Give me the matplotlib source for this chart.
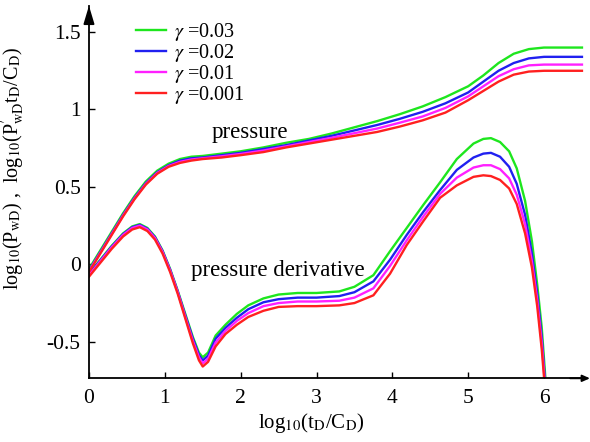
import matplotlib
matplotlib.use("Agg")
import matplotlib.pyplot as plt

plt.rcParams['font.family'] = ['Liberation Serif', 'DejaVu Serif']
plt.rcParams['mathtext.fontset'] = 'stix'

# data
gammas = ['0.03', '0.02', '0.01', '0.001']
colors = ['#1ee61e', '#2020f0', '#ff20ff', '#ff2020']

# pressure curves, log10(PwD)
x_p = [0, 0.15, 0.3, 0.45, 0.6, 0.75, 0.9, 1.05, 1.2, 1.35, 1.5, 1.75, 2.0, 2.3,
       2.6, 2.9, 3.2, 3.5, 3.8, 4.1, 4.4, 4.7, 5.0, 5.2, 5.4, 5.6, 5.8, 6.0, 6.2, 6.5]
p_003 = [-0.03, 0.09, 0.21, 0.33, 0.44, 0.535, 0.605, 0.65, 0.68, 0.695, 0.70, 0.715,
         0.73, 0.755, 0.785, 0.81, 0.845, 0.885, 0.925, 0.97, 1.02, 1.08, 1.15, 1.22,
         1.30, 1.36, 1.39, 1.40, 1.40, 1.40]
p_002 = [-0.04, 0.08, 0.20, 0.32, 0.43, 0.525, 0.595, 0.64, 0.67, 0.685, 0.69, 0.705,
         0.72, 0.745, 0.77, 0.80, 0.83, 0.865, 0.90, 0.94, 0.985, 1.04, 1.11, 1.18,
         1.25, 1.30, 1.33, 1.34, 1.34, 1.34]
p_001 = [-0.045, 0.075, 0.195, 0.315, 0.425, 0.52, 0.59, 0.635, 0.662, 0.677, 0.685, 0.698,
         0.713, 0.735, 0.762, 0.79, 0.817, 0.847, 0.877, 0.915, 0.955, 1.01, 1.085, 1.15,
         1.215, 1.26, 1.285, 1.29, 1.29, 1.29]
p_0001 = [-0.05, 0.07, 0.19, 0.31, 0.42, 0.515, 0.585, 0.63, 0.655, 0.67, 0.68, 0.69,
          0.705, 0.725, 0.755, 0.78, 0.805, 0.83, 0.855, 0.89, 0.93, 0.98, 1.06, 1.12,
          1.18, 1.225, 1.245, 1.25, 1.25, 1.25]

# pressure derivative curves, log10(P'wD tD/CD)
x_d = [0, 0.15, 0.3, 0.45, 0.57, 0.67, 0.77, 0.87, 0.97, 1.07, 1.17, 1.27, 1.37, 1.45,
       1.5, 1.57, 1.67, 1.8, 1.95, 2.1, 2.3, 2.5, 2.75, 3.0, 3.3, 3.5, 3.75, 3.97, 4.19,
       4.41, 4.63, 4.85, 5.07, 5.2, 5.3, 5.42, 5.54, 5.64, 5.75, 5.84, 5.91, 5.97, 6.02, 6.06]
d_003 = [-0.06, 0.03, 0.12, 0.20, 0.245, 0.26, 0.235, 0.18, 0.09, -0.03, -0.17, -0.32,
         -0.47, -0.57, -0.60, -0.57, -0.46, -0.39, -0.32, -0.265, -0.22, -0.195, -0.185,
         -0.185, -0.175, -0.145, -0.07, 0.085, 0.235, 0.385, 0.53, 0.68, 0.78, 0.81, 0.815,
         0.79, 0.73, 0.62, 0.41, 0.15, -0.13, -0.41, -0.75, -1.0]
d_002 = [-0.065, 0.025, 0.115, 0.195, 0.24, 0.255, 0.23, 0.175, 0.085, -0.035, -0.175,
         -0.33, -0.48, -0.585, -0.62, -0.59, -0.48, -0.41, -0.345, -0.29, -0.245, -0.225,
         -0.215, -0.215, -0.205, -0.18, -0.11, 0.03, 0.19, 0.34, 0.48, 0.61, 0.69, 0.715,
         0.72, 0.695, 0.63, 0.52, 0.32, 0.07, -0.19, -0.47, -0.8, -1.0]
d_001 = [-0.07, 0.02, 0.11, 0.19, 0.235, 0.25, 0.225, 0.17, 0.08, -0.04, -0.18, -0.34,
         -0.495, -0.60, -0.64, -0.61, -0.505, -0.43, -0.365, -0.315, -0.27, -0.25, -0.24,
         -0.24, -0.235, -0.215, -0.155, -0.01, 0.155, 0.31, 0.455, 0.56, 0.625, 0.64, 0.64,
         0.615, 0.555, 0.45, 0.26, 0.02, -0.23, -0.51, -0.82, -1.0]
d_0001 = [-0.08, 0.01, 0.10, 0.18, 0.225, 0.24, 0.215, 0.16, 0.07, -0.05, -0.19, -0.35,
          -0.51, -0.62, -0.66, -0.63, -0.53, -0.45, -0.39, -0.34, -0.30, -0.275, -0.27,
          -0.27, -0.265, -0.25, -0.20, -0.06, 0.125, 0.28, 0.43, 0.51, 0.565, 0.575, 0.57,
          0.545, 0.49, 0.39, 0.20, -0.02, -0.27, -0.55, -0.85, -1.0]

pressure = [p_003, p_002, p_001, p_0001]
derivative = [d_003, d_002, d_001, d_0001]

fig = plt.figure(figsize=(5.9, 4.42), dpi=100)
ax = fig.add_axes([0.1508, 0.1441, 0.9915 - 0.1508, 0.987 - 0.1441])

for g, c, p, d in zip(gammas, colors, pressure, derivative):
    ax.plot(x_p, p, color=c, lw=1.7, label=r'$\gamma$ =' + g)
    ax.plot(x_d, d, color=c, lw=1.7)

ax.set_xlim(0, 6.54)
ax.set_ylim(-0.736, 1.67)

for s in ['top', 'right']:
    ax.spines[s].set_visible(False)
for s in ['left', 'bottom']:
    ax.spines[s].set_linewidth(1.3)

ax.set_xticks([0, 1, 2, 3, 4, 5, 6])
ax.set_yticks([-0.5, 0, 0.5, 1, 1.5])
ax.set_yticklabels(['-0.5', '0', '0.5', '1', '1.5'])
ax.tick_params(direction='in', length=4, width=1, labelsize=15.5)
ax.tick_params(axis='x', pad=8)
ax.tick_params(axis='y', pad=6)

# axis arrows
ax.annotate('', xy=(0, 1.0), xytext=(0, 0.95), xycoords='axes fraction',
            arrowprops=dict(arrowstyle='-|>,head_length=1.1,head_width=0.33',
                            color='black', lw=1.3, shrinkA=0, shrinkB=0))
ax.annotate('', xy=(1.01, 0), xytext=(0.97, 0), xycoords='axes fraction',
            arrowprops=dict(arrowstyle='-|>,head_length=0.45,head_width=0.2',
                            color='black', lw=1.3, shrinkA=0, shrinkB=0),
            annotation_clip=False)

ax.text(2.12, 0.854, 'pressure', fontsize=16.5, ha='center', va='center')
ax.text(2.49, -0.043, 'pressure derivative', fontsize=16.5, ha='center', va='center')

ax.set_xlabel(r'log$_{10}$(t$_{\mathrm{D}}$/C$_{\mathrm{D}}$)', fontsize=15)
ax.xaxis.set_label_coords(0.449, -0.088)
ax.set_ylabel(r'log$_{10}$(P$_{\mathrm{wD}}$) ,  log$_{10}$(P$^{\prime}_{\mathrm{wD}}$t$_{\mathrm{D}}$/C$_{\mathrm{D}}$)',
              fontsize=14.5)
ax.yaxis.set_label_coords(-0.125, 0.564)

ax.legend(loc='upper left', bbox_to_anchor=(0.094, 0.96), frameon=False, fontsize=14.5,
          handlelength=1.5, handletextpad=0.4, labelspacing=-0.05, borderpad=0,
          borderaxespad=0)

fig.savefig('out.png', dpi=100)
